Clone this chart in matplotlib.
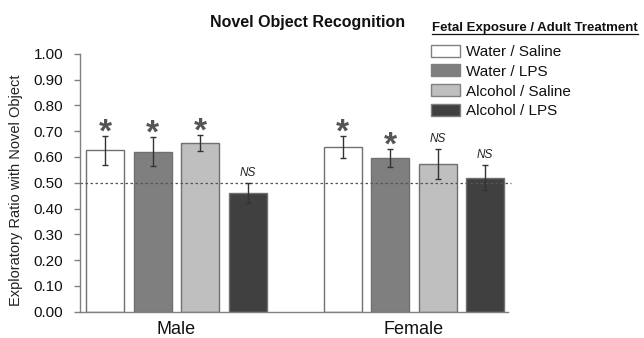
import matplotlib
matplotlib.use("Agg")
import matplotlib.pyplot as plt
from matplotlib.patches import Rectangle
from matplotlib.lines import Line2D
import numpy as np

plt.rcParams['font.family'] = ['Liberation Sans', 'DejaVu Sans']

# exploratory ratio (mean +/- SEM) per sex and treatment group
groups = ['Male', 'Female']
treatments = ['Water / Saline', 'Water / LPS', 'Alcohol / Saline', 'Alcohol / LPS']
colors = ['#ffffff', '#7f7f7f', '#bfbfbf', '#404040']
male_mean = [0.625, 0.620, 0.653, 0.460]
male_sem = [0.057, 0.057, 0.031, 0.040]
female_mean = [0.638, 0.594, 0.572, 0.520]
female_sem = [0.043, 0.035, 0.057, 0.048]
male_marks = ['*', '*', '*', 'NS']
female_marks = ['*', '*', 'NS', 'NS']
chance = 0.50
yticks = [0.0, 0.1, 0.2, 0.3, 0.4, 0.5, 0.6, 0.7, 0.8, 0.9, 1.0]

fig = plt.figure(figsize=(6.44, 3.38), dpi=100)
ax = fig.add_axes([0.1242, 0.0778, 0.6646, 0.7633])

data = [(male_mean, male_sem, male_marks), (female_mean, female_sem, female_marks)]
centers = []
for g, (means, sems, marks) in enumerate(data):
    xs = np.arange(len(treatments)) + 5 * g
    centers.append(xs.mean())
    ax.bar(xs, means, width=0.8, color=colors, edgecolor='#707070',
           linewidth=1, zorder=2)
    ax.errorbar(xs, means, yerr=sems, fmt='none', ecolor='#333333',
                elinewidth=1, capsize=2.5, capthick=1, zorder=4)
    for x, m, s, mk in zip(xs, means, sems, marks):
        if mk == '*':
            ax.annotate('*', (x, m + s), xytext=(0, -4), textcoords='offset points',
                        ha='center', va='baseline', fontsize=24, weight='bold',
                        color='#555555')
        else:
            ax.annotate('NS', (x, m + s), xytext=(0, 5), textcoords='offset points',
                        ha='center', va='baseline', fontsize=8.5, style='italic',
                        color='#222222')

# chance level
ax.axhline(chance, xmin=0, xmax=1.008, color='#555555', lw=0.9,
           ls=(0, (2, 2)), clip_on=False, zorder=3)

ax.set_xlim(-0.53, 8.48)
ax.set_ylim(0, 1.0)
ax.set_yticks(yticks)
ax.set_yticklabels(['%.2f' % t for t in yticks])
ax.set_xticks(centers)
ax.set_xticklabels(groups)
for s in ['top', 'right']:
    ax.spines[s].set_visible(False)
for s in ['left', 'bottom']:
    ax.spines[s].set_color('#808080')
    ax.spines[s].set_linewidth(1)
ax.tick_params(axis='y', length=4, width=1, color='#808080', pad=8.2,
               labelsize=11, labelcolor='#111111')
ax.tick_params(axis='x', length=0, pad=7, labelsize=13, labelcolor='#111111')

fig.text(0.0248, 0.438, 'Exploratory Ratio with Novel Object', rotation=90,
         ha='center', va='center', fontsize=10.5, color='#222222')
fig.text(0.478, 0.920, 'Novel Object Recognition', ha='center', va='baseline',
         fontsize=11.5, weight='bold', color='#111111')

# legend drawn by hand: underlined title, swatches and labels
lt = fig.text(432 / 644, 1 - 31 / 338, 'Fetal Exposure / Adult Treatment',
              ha='left', va='baseline', fontsize=9.5, weight='bold', color='#111111')
fig.canvas.draw()
bb = lt.get_window_extent().transformed(fig.transFigure.inverted())
uy = 1 - 33.5 / 338
fig.add_artist(Line2D([bb.x0, bb.x1], [uy, uy], transform=fig.transFigure,
                      color='#111111', lw=0.9))

row_y = [51, 70, 90, 109.5]
for lab, col, ry in zip(treatments, colors, row_y):
    yc = 1 - ry / 338
    fig.add_artist(Rectangle((431 / 644, yc - 6 / 338), 29 / 644, 12 / 338,
                             transform=fig.transFigure, facecolor=col,
                             edgecolor='#808080', lw=1))
    fig.text(466 / 644, yc, lab, ha='left', va='center_baseline', fontsize=11,
             color='#111111')

fig.savefig('out.png', dpi=100)
